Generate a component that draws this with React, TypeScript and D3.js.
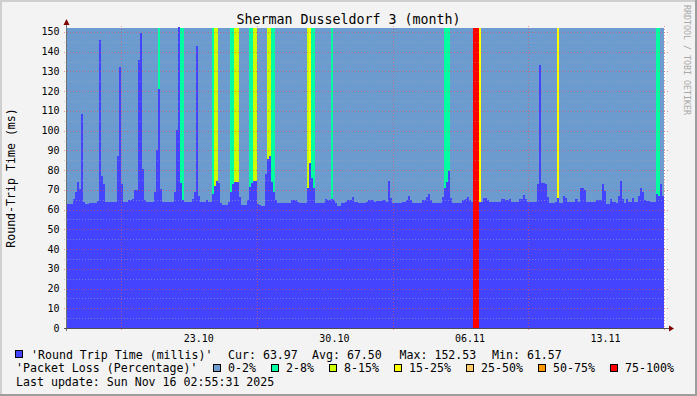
import React from "react";
import * as d3 from "d3";

const W = 697;
const H = 396;
const PLOT = { left: 67, right: 665, top: 28, bottom: 328 };
const FONT = "'DejaVu Sans Mono', monospace";

const TITLE = "Sherman Dusseldorf 3 (month)";
const Y_TITLE = "Round-Trip Time (ms)";
const WATERMARK = "RRDTOOL / TOBI OETIKER";
const LAST_UPDATE = "Last update: Sun Nov 16 02:55:31 2025";

const START = new Date(2025, 9, 16, 4, 42);
const END = new Date(2025, 10, 16, 1, 36);
const STEP_HOURS = 2.5;
const Y_MAX = 152;

// Round trip time (ms), one value per 2.5 h bin starting at START (null = no reply)
const rttValues: (number | null)[] = [
  62.8, 62.8, 62.8, 65.3, 68.7, 74.1, 70.4, 108.2, 63.6, 62.8,
  62.8, 63.3, 63.3, 63.3, 63.3, 64.3, 145.9, 77.2, 73, 63.6,
  63.6, 64, 64, 63.8, 63.8, 86.9, 132, 73, 63.6, 63.6,
  64.7, 64.7, 65.3, 70, 70, 135.9, 149.6, 80.6, 64.7, 63.6,
  64, 64, 64, 68.7, 90, 121, 70.4, 63.6, 63.6, 63.6,
  63.6, 64, 64, 68.7, 100.2, 152.5, 73.5, 64.7, 63.6, 63.6,
  63.6, 63.6, 65.3, 69, 143, 67, 63.6, 63.6, 63.6, 64.7,
  63.6, 63.6, 67.9, 71.8, 74.7, 73.5, 63.3, 62.4, 62.4, 62.4,
  63.6, 68.7, 73, 74, 74, 66.5, 62.4, 62.4, 62.4, 64.7,
  71.3, 73.5, 74.4, 74.7, 63, 62.4, 62, 62, 78, 85.4,
  87.4, 74.1, 68.7, 64.7, 63.3, 63.3, 63.3, 63.3, 63.3, 63.3,
  63.3, 64.8, 64.8, 64.8, 64, 63.3, 63.3, 63.3, 63.3, 70.7,
  83.7, 75.9, 70.7, 63.3, 63.3, 63.3, 63.3, 63.3, 65.3, 64.7,
  64.7, 65.3, 64.7, 63.3, 62, 62, 63.3, 63.3, 64, 64.7,
  64.7, 66.2, 63.6, 63.6, 63.3, 63.3, 63.3, 63.3, 64, 64.8,
  64.8, 64.8, 64, 64.2, 64.2, 64.2, 64.7, 64.7, 63.6, 74.7,
  66, 63.3, 63.3, 63.3, 63.3, 63.3, 64, 64, 64.8, 67,
  64.7, 63.3, 63.3, 63.3, 63.3, 63.3, 64.7, 64.7, 66.2, 67.9,
  64.8, 63.3, 63.3, 63.3, 63.3, 63.3, 66.2, 70.7, 74.1, 79.8,
  66, 63.3, 63.3, 63.3, 63.3, 63.3, 64.7, 65.3, 66.2, 64.7,
  64, null, null, null, 63.6, 63.6, 65.7, 65.7, 64.7, 64,
  64, 63.6, 63.6, 63.6, 63.6, 65.3, 65.3, 64.7, 64.7, 65.3,
  64, 64, 64, 64, 65.3, 65.3, 67.3, 65.3, 64, 64,
  64, 64, 64, 73, 133.2, 73.5, 73.5, 73, 66.2, 63.3,
  63.3, 63.3, 64, 66, 63.3, 63.3, 67, 66, 64, 64,
  64, 64, 65.3, 64, 70.7, 70.7, 70, 64, 63.6, 63.6,
  63.6, 63.6, 64.8, 64.8, 64.8, 73, 69.2, 62.8, 62.8, 65.3,
  64, 64, 63.3, 66.8, 74.7, 65.3, 63.3, 65.3, 63.6, 63.6,
  66, 63.6, 63.6, 66.8, 70.7, 68.7, 64.8, 64.2, 64.2, 63.6,
  63.6, 63.6, 67.9, 66.8, 73, 67,
];

// Packet loss (%) for the bins that had loss; all other bins are 0 %
const lossBins = [45, 56, 57, 72, 73, 74, 81, 82, 83, 84, 90, 91, 92, 93, 99, 100, 101, 102,
  119, 120, 121, 122, 131, 187, 188, 189, 201, 202, 203, 204, 243, 292, 293];
const lossPct = [5, 5, 5, 5, 10, 10, 5, 5, 10, 10, 5, 5, 10, 10, 10, 10, 5, 5,
  10, 20, 5, 5, 5, 5, 5, 5, 100, 100, 100, 20, 20, 5, 5];

const lossLabels = ["0-2%", "2-8%", "8-15%", "15-25%", "25-50%", "50-75%", "75-100%"];
const lossUpper = [2, 8, 15, 25, 50, 75, 100];
const lossColors = ["#6b9bcf", "#00ffa0", "#ccff00", "#ffff00", "#ffcc66", "#ff9900", "#ff0000"];

const xLabelDates = [new Date(2025, 9, 23), new Date(2025, 9, 30), new Date(2025, 10, 6), new Date(2025, 10, 13)];

const rttLabel = "'Round Trip Time (millis)'";
const lossLabel = "'Packet Loss (Percentage)'";
const statNames = ["Cur:", "Avg:", "Max:", "Min:"];
const statValues = ["63.97", "67.50", "152.53", "61.57"];

// layout of legend pieces (x positions in px)
const statX = [228, 312, 399.5, 492];
const lossSwatchX = [213.5, 271.5, 329.5, 394.5, 466.5, 538.5, 610.5];

const RTT_COLOR = "#4444ff";
const MGRID = "rgba(225,85,85,0.6)";
const GRID = "rgba(170,170,170,0.5)";

function lossColor(p: number) {
  const i = lossUpper.findIndex((u) => p <= u);
  return lossColors[i < 0 ? lossColors.length - 1 : i];
}

export default function App() {
  const x = d3.scaleTime().domain([START, END]).range([PLOT.left, PLOT.right]);
  const y = d3.scaleLinear().domain([0, Y_MAX]).range([PLOT.bottom, PLOT.top]);
  const stepMs = STEP_HOURS * 3600 * 1000;
  const binT = (i: number) => new Date(START.getTime() + i * stepMs);
  const nBins = rttValues.length;

  // step-shaped points, two per bin
  const pts: { t: Date; v: number | null }[] = [];
  rttValues.forEach((v, i) => {
    pts.push({ t: binT(i), v });
    pts.push({ t: binT(i + 1), v });
  });
  const area = d3
    .area<{ t: Date; v: number | null }>()
    .defined((d) => d.v !== null)
    .x((d) => x(d.t))
    .y0(y(0))
    .y1((d) => y(d.v as number));

  const minorTicks = d3.range(5, Y_MAX, 10);
  const majorTicks = d3.range(0, Y_MAX + 0.1, 10);
  const weekLines = d3.timeSunday.range(START, END);
  const fmt = d3.timeFormat("%d.%m");

  const dataEnd = x(binT(nBins));

  return (
    <svg
      width={W}
      height={H}
      viewBox={`0 0 ${W} ${H}`}
      style={{ position: "absolute", left: 0, top: 0, display: "block" }}
      fontFamily={FONT}
    >
      <rect x={0} y={0} width={W} height={H} fill="#f3f3f3" />
      {/* 3D frame */}
      <rect x={0} y={0} width={W} height={2} fill="#cfcfcf" />
      <rect x={0} y={0} width={2} height={H} fill="#cfcfcf" />
      <rect x={0} y={H - 2} width={W} height={2} fill="#9e9e9e" />
      <rect x={W - 2} y={0} width={2} height={H} fill="#9e9e9e" />

      {/* canvas */}
      <rect x={PLOT.left} y={PLOT.top} width={PLOT.right - PLOT.left + 1} height={PLOT.bottom - PLOT.top} fill="#ffffff" />
      {/* 0-2% loss background where data exists */}
      <rect
        x={x(START)}
        y={PLOT.top}
        width={dataEnd - x(START)}
        height={PLOT.bottom - PLOT.top}
        fill={lossColors[0]}
        shapeRendering="crispEdges"
      />
      {lossBins.map((b, k) => (
        <rect
          key={"l" + k}
          x={x(binT(b))}
          y={PLOT.top}
          width={x(binT(b + 1)) - x(binT(b))}
          height={PLOT.bottom - PLOT.top}
          fill={lossColor(lossPct[k])}
          shapeRendering="crispEdges"
        />
      ))}
      <path d={area(pts) || ""} fill={RTT_COLOR} shapeRendering="crispEdges" />

      {/* grid */}
      {minorTicks.map((v) => (
        <line key={"gm" + v} x1={PLOT.left - 3} x2={PLOT.right + 3} y1={Math.round(y(v)) + 0.5} y2={Math.round(y(v)) + 0.5}
          stroke={GRID} strokeDasharray="1,2" />
      ))}
      {majorTicks.map((v) => (
        <line key={"gM" + v} x1={PLOT.left - 3} x2={PLOT.right + 3} y1={Math.round(y(v)) + 0.5} y2={Math.round(y(v)) + 0.5}
          stroke={MGRID} strokeDasharray="1,2" />
      ))}
      {weekLines.map((d, k) => (
        <line key={"gw" + k} x1={Math.round(x(d)) + 0.5} x2={Math.round(x(d)) + 0.5} y1={PLOT.top - 2} y2={PLOT.bottom + 3}
          stroke={MGRID} strokeDasharray="1,2" />
      ))}

      {/* axes */}
      <line x1={PLOT.left - 0.5} x2={PLOT.left - 0.5} y1={PLOT.bottom + 3} y2={PLOT.top - 5} stroke="#707070" />
      <line x1={PLOT.left - 3} x2={PLOT.right + 5} y1={PLOT.bottom + 0.5} y2={PLOT.bottom + 0.5} stroke="#505050" />
      <path d={`M${PLOT.left - 3.5},${PLOT.top - 3} L${PLOT.left - 0.5},${PLOT.top - 9} L${PLOT.left + 2.5},${PLOT.top - 3} Z`} fill="#7f0000" />
      <path d={`M${PLOT.right + 4},${PLOT.bottom - 2.5} L${PLOT.right + 9},${PLOT.bottom + 0.5} L${PLOT.right + 4},${PLOT.bottom + 3.5} Z`} fill="#7f0000" />

      {/* y tick labels */}
      {majorTicks.map((v) => (
        <text key={"yl" + v} x={59.5} y={y(v)} dy="0.35em" fontSize={10} textAnchor="end" fill="#000">
          {v}
        </text>
      ))}
      {/* x labels */}
      {xLabelDates.map((d, k) => (
        <text key={"xl" + k} x={x(d)} y={342} fontSize={10} textAnchor="middle" fill="#000">
          {fmt(d)}
        </text>
      ))}

      {/* title */}
      <text x={W / 2} y={23.5} fontSize={13.3} textAnchor="middle" fill="#000">{TITLE}</text>
      <text transform={`translate(11,178) rotate(-90)`} fontSize={11.6} textAnchor="middle" dy="0.35em" fill="#000">{Y_TITLE}</text>
      <text transform={`translate(687,5) rotate(90)`} fontSize={8.3} textAnchor="start" dy="0.35em" fill="#a8a8a8">{WATERMARK}</text>

      {/* legend row 1 */}
      <rect x={15.5} y={350.5} width={7} height={7} fill={RTT_COLOR} stroke="#000" />
      <text x={31} y={358.5} fontSize={11.6} fill="#000" xmlSpace="preserve">{rttLabel}</text>
      {statNames.map((s, k) => (
        <text key={"st" + k} x={statX[k]} y={358.5} fontSize={11.6} fill="#000" xmlSpace="preserve">
          {s + " " + statValues[k]}
        </text>
      ))}
      {/* legend row 2 */}
      <text x={16} y={372} fontSize={11.6} fill="#000">{lossLabel}</text>
      {lossLabels.map((l, k) => (
        <g key={"lg" + k}>
          <rect x={lossSwatchX[k]} y={364.5} width={7} height={7} fill={lossColors[k]} stroke="#000" />
          <text x={lossSwatchX[k] + 14.5} y={372} fontSize={11.6} fill="#000">{l}</text>
        </g>
      ))}
      {/* legend row 3 */}
      <text x={16} y={385.5} fontSize={11.6} fill="#000">{LAST_UPDATE}</text>
    </svg>
  );
}
